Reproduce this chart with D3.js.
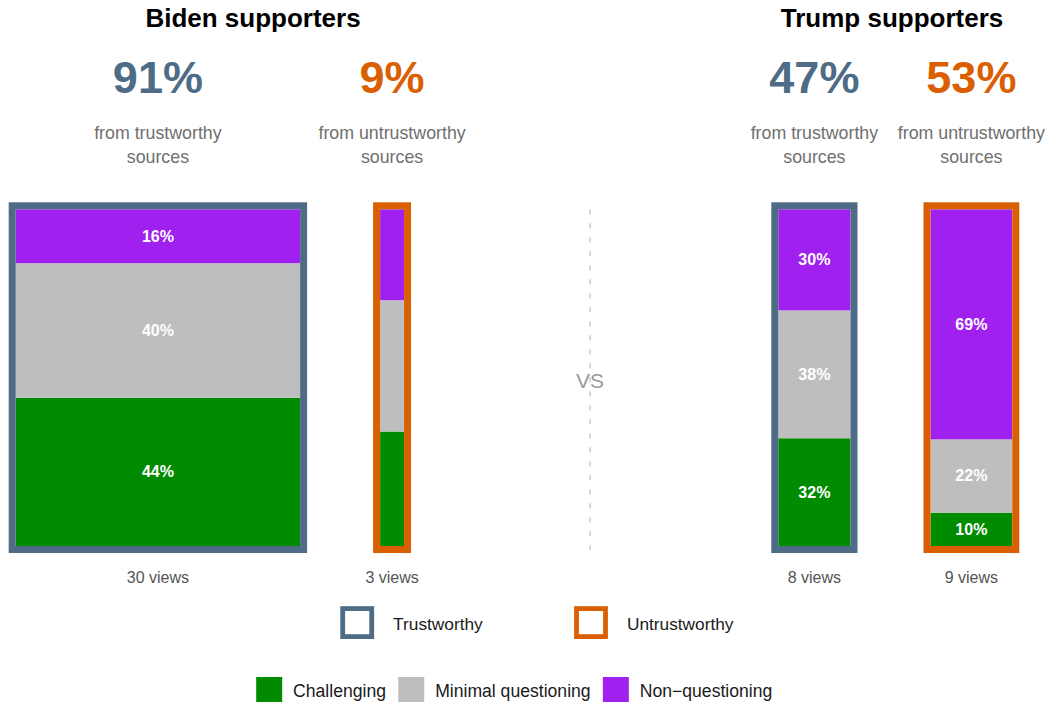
<!DOCTYPE html>
<html>
<head>
<meta charset="utf-8">
<script src="https://cdn.jsdelivr.net/npm/d3@7"></script>
<style>
  body { margin: 0; background: #fff; }
  svg { display: block; }
  text { font-family: "Liberation Sans", Arial, Helvetica, sans-serif; }
</style>
</head>
<body>
<svg id="chart" width="1052" height="702"></svg>
<script>
// ---- data ----
const groups = ["Biden supporters", "Trump supporters"];
const sourceTypes = ["Trustworthy", "Untrustworthy"];
const columnGroup = [0, 0, 1, 1];
const columnSource = [0, 1, 0, 1];
const shareOfViews = [91, 9, 47, 53];          // % of views per source type
const viewCounts = [30, 3, 8, 9];              // number of views
const behaviours = ["Challenging", "Minimal questioning", "Non\u2212questioning"];
const challenging = [44, 34, 32, 10];
const minimalQuestioning = [40, 39, 38, 22];
const nonQuestioning = [16, 27, 30, 69];
const labelledColumns = [true, false, true, true];

// ---- styling ----
const sourceColors = ["#4e6c86", "#d95f02"];
const behaviourColors = ["#008b00", "#bebebe", "#a020f0"];

const svg = d3.select("#chart");

const columns = viewCounts.map((v, i) => ({
  index: i,
  group: columnGroup[i],
  source: columnSource[i],
  views: v,
  share: shareOfViews[i],
  labelled: labelledColumns[i],
  [behaviours[0]]: challenging[i],
  [behaviours[1]]: minimalQuestioning[i],
  [behaviours[2]]: nonQuestioning[i]
}));

// bar width grows with the number of views
const widthScale = d3.scaleLinear().domain([0, d3.max(viewCounts)]).range([0, 289.4]);
const barWidth = d => widthScale(d.views) - 5;

// horizontal layout: each group laid out left to right, fixed gap between bars
const groupStart = [15.7, 778.3];
const barGap = 80;
const dividerX = 590;
groups.forEach((g, gi) => {
  let x = groupStart[gi];
  columns.filter(c => c.group === gi).forEach(c => {
    c.x = x;
    c.w = barWidth(c);
    c.cx = x + c.w / 2;
    x += c.w + barGap;
  });
});

const y = d3.scaleLinear().domain([0, 1]).range([546, 209.3]);
const stack = d3.stack().keys(behaviours).offset(d3.stackOffsetExpand);
const series = stack(columns);
const color = d3.scaleOrdinal().domain(behaviours).range(behaviourColors);

// ---- group titles ----
const titleX = [253, 892];
svg.selectAll("text.title").data(groups).join("text")
  .attr("class", "title")
  .attr("x", (d, i) => titleX[i]).attr("y", 27)
  .attr("text-anchor", "middle")
  .style("font-size", "26px").style("font-weight", "bold").style("fill", "#000")
  .text(d => d);

// ---- share headline + caption ----
svg.selectAll("text.share").data(columns).join("text")
  .attr("class", "share")
  .attr("x", d => d.cx).attr("y", 93)
  .attr("text-anchor", "middle")
  .style("font-size", "45px").style("font-weight", "bold")
  .style("fill", d => sourceColors[d.source])
  .text(d => d.share + "%");

const caption = svg.selectAll("text.caption").data(columns).join("text")
  .attr("class", "caption")
  .attr("text-anchor", "middle")
  .style("font-size", "17.8px").style("fill", "#6f6f6f");
caption.append("tspan").attr("x", d => d.cx).attr("y", 138.5)
  .text(d => "from " + sourceTypes[d.source].toLowerCase());
caption.append("tspan").attr("x", d => d.cx).attr("y", 162.7).text("sources");

// ---- divider ----
svg.append("line")
  .attr("x1", dividerX).attr("x2", dividerX)
  .attr("y1", y(1)).attr("y2", y(0) + 4)
  .attr("stroke", "#c4c4c4").attr("stroke-width", 1.4)
  .attr("stroke-dasharray", "5,9");
svg.append("text")
  .attr("x", dividerX).attr("y", 388.3)
  .attr("text-anchor", "middle")
  .style("font-size", "21px").style("fill", "#9a9a9a")
  .text("VS");

// ---- stacked bars ----
const layers = svg.append("g").selectAll("g").data(series).join("g")
  .attr("fill", s => color(s.key));
layers.selectAll("rect").data(s => s).join("rect")
  .attr("x", d => d.data.x)
  .attr("width", d => d.data.w)
  .attr("y", d => y(d[1]))
  .attr("height", d => y(d[0]) - y(d[1]));

// segment labels
const labels = svg.append("g");
series.forEach(s => {
  s.forEach(d => {
    if (!d.data.labelled) return;
    labels.append("text")
      .attr("x", d.data.cx)
      .attr("y", (y(d[0]) + y(d[1])) / 2 + 5.5)
      .attr("text-anchor", "middle")
      .style("font-size", "16px").style("font-weight", "bold").style("fill", "#fff")
      .text(d.data[s.key] + "%");
  });
});

// source-type frames
svg.append("g").selectAll("rect").data(columns).join("rect")
  .attr("x", d => d.x - 3.5)
  .attr("y", y(1) - 3.5)
  .attr("width", d => d.w + 7)
  .attr("height", y(0) - y(1) + 7)
  .attr("fill", "none")
  .attr("stroke", d => sourceColors[d.source])
  .attr("stroke-width", 7);

// view counts
svg.selectAll("text.views").data(columns).join("text")
  .attr("class", "views")
  .attr("x", d => d.cx).attr("y", 582.7)
  .attr("text-anchor", "middle")
  .style("font-size", "16px").style("fill", "#555")
  .text(d => d.views + " views");

// ---- legend: source type ----
const srcLegendX = [340.3, 574.1];
const srcLegend = svg.append("g").selectAll("g").data(sourceTypes).join("g")
  .attr("transform", (d, i) => `translate(${srcLegendX[i]},606.2)`);
srcLegend.append("rect")
  .attr("x", 2.4).attr("y", 2.4).attr("width", 29).attr("height", 28)
  .attr("fill", "#fff")
  .attr("stroke", (d, i) => sourceColors[i]).attr("stroke-width", 4.8);
srcLegend.append("text")
  .attr("x", 52.8).attr("y", 24.1)
  .style("font-size", "17.3px").style("fill", "#1a1a1a")
  .text(d => d);

// ---- legend: behaviour ----
const behLegend = svg.append("g");
let lx = 256.2;
behaviours.forEach((b, i) => {
  behLegend.append("rect")
    .attr("x", lx).attr("y", 677).attr("width", 26).attr("height", 26)
    .attr("fill", color(b));
  const t = behLegend.append("text")
    .attr("x", lx + 36.9).attr("y", 696.5)
    .style("font-size", "17.6px").style("fill", "#1a1a1a")
    .text(b);
  lx += 36.9 + t.node().getComputedTextLength() + 12.2;
});
</script>
</body>
</html>
